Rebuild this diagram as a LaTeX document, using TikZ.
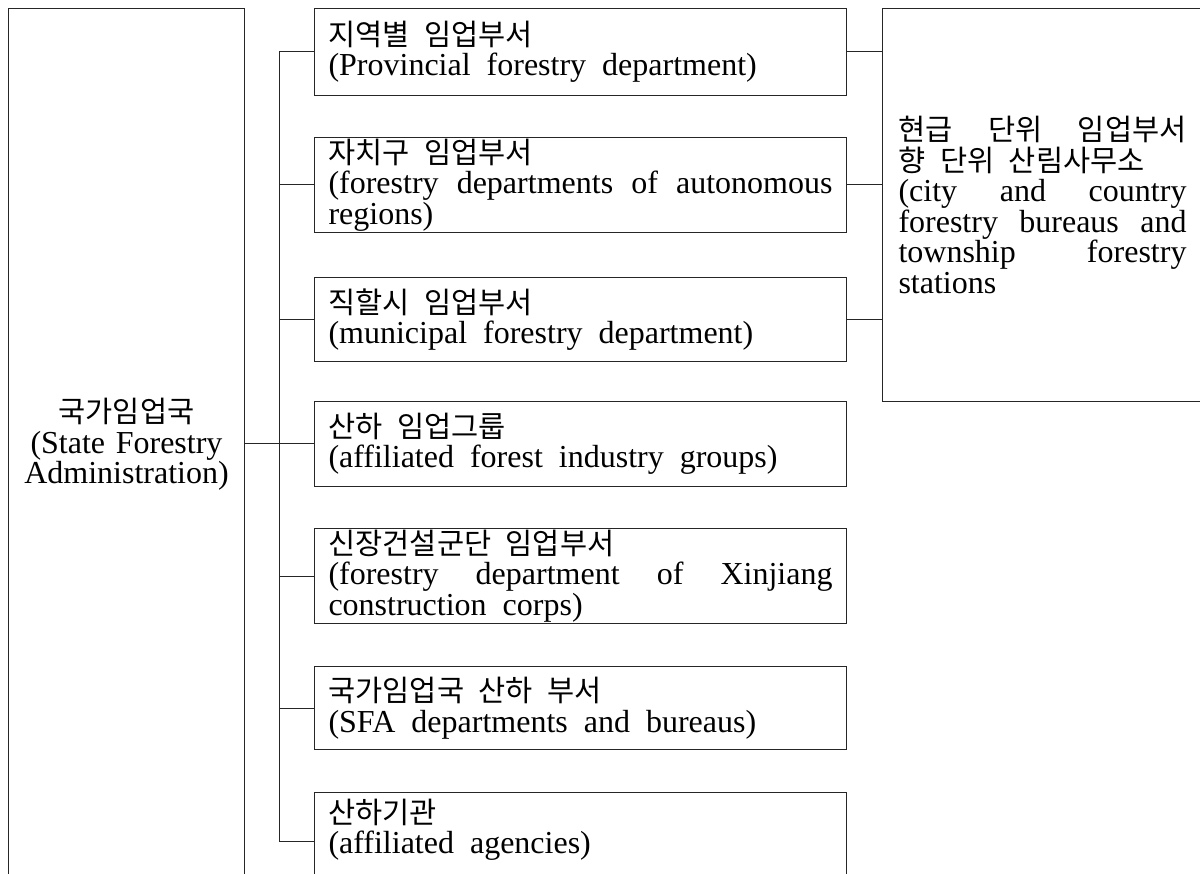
\documentclass[tikz,border=0pt]{standalone}
\usepackage{fontspec}
\setmainfont{Liberation Serif}[WordSpace=2]
\newfontfamily\krfont{Noto Sans CJK KR}[WordSpace=2.2]
\newcommand\K[1]{{\krfont\fontsize{29.5}{32}\selectfont #1}}
\tikzset{
  box/.style={draw=black!85, line width=1pt, anchor=north west, inner ysep=0pt,
    font=\fontsize{32}{30.5}\selectfont},
  mid/.style={box, text width=504pt, inner xsep=14pt, align=justify},
  conn/.style={draw=black!85, line width=1pt}
}
\begin{document}
\begin{tikzpicture}[x=1pt,y=-1pt]
\clip (0,0) rectangle (1200,874);
\fill[white] (0,0) rectangle (1200,874);
% left box
\node[box, text width=220pt, inner xsep=8pt, align=center, minimum height=872pt] (L) at (8,8)
  {\K{국가임업국}\\(State Forestry Administration)};
% middle boxes
\node[mid, minimum height=87pt] (b1) at (314,8)
  {\K{지역별 임업부서}\\(Provincial forestry department)};
\node[mid, minimum height=95pt] (b2) at (314,137)
  {\K{자치구 임업부서}\\(forestry departments of autonomous\linebreak regions)};
\node[mid, minimum height=84pt] (b3) at (314,277)
  {\K{직할시 임업부서}\\(municipal forestry department)};
\node[mid, minimum height=85pt] (b4) at (314,401)
  {\K{산하 임업그룹}\\(affiliated forest industry groups)};
\node[mid, minimum height=95pt] (b5) at (314,528)
  {\K{신장건설군단 임업부서}\\(forestry department of Xinjiang\linebreak construction corps)};
\node[mid, minimum height=83pt] (b6) at (314,666)
  {\K{국가임업국 산하 부서}\\(SFA departments and bureaus)};
\node[mid, minimum height=98pt] (b7) at (314,792)
  {\K{산하기관}\\(affiliated agencies)\rule[-30pt]{0pt}{1pt}};
% right box
\node[box, text width=288pt, inner xsep=16pt, align=justify, minimum height=393pt] (R) at (882,8)
  {\K{현급 단위 임업부서}\linebreak\K{향 단위 산림사무소}\\(city and country\linebreak forestry bureaus and\linebreak township forestry\linebreak stations};
% connectors
\coordinate (tx) at (279,0);
\draw[conn] (b1.west) -- (b1.west -| tx) -- (b7.west -| tx) -- (b7.west);
\foreach \b in {b2,b3,b4,b5,b6} \draw[conn] (\b.west) -- (\b.west -| tx);
\draw[conn] (L.east |- b4.west) -- (b4.west -| tx);
\foreach \b in {b1,b2,b3} \draw[conn] (\b.east) -- (\b.east -| R.west);
\end{tikzpicture}
\end{document}
